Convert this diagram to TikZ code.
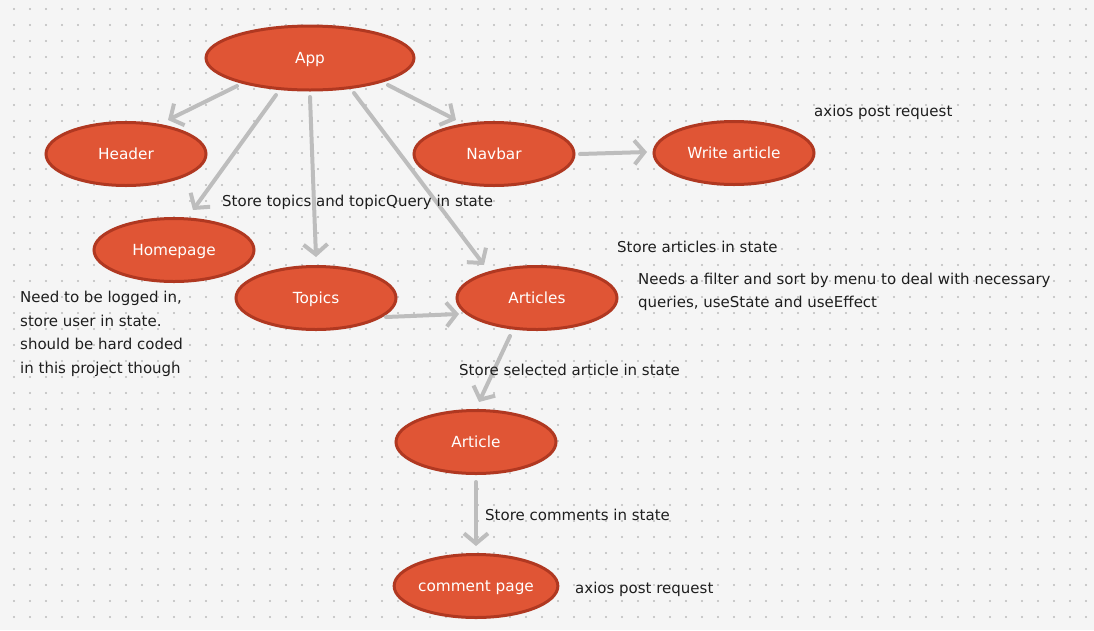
\documentclass[tikz,border=0pt]{standalone}
\usepackage{fontspec}
\setmainfont{DejaVu Sans}
\usetikzlibrary{arrows.meta,shapes.geometric,calc}
\definecolor{bgcol}{HTML}{F5F5F5}
\definecolor{dotcol}{HTML}{BBBBBB}
\definecolor{ellfill}{HTML}{E05535}
\definecolor{elldraw}{HTML}{B03821}
\definecolor{arrowgray}{HTML}{BDBDBD}
\definecolor{txtcol}{HTML}{1E1E1E}
\tikzset{
  comp/.style={ellipse, draw=elldraw, fill=ellfill, line width=3pt,
    minimum width=160pt, minimum height=63pt, inner sep=0pt,
    text height=14.5pt, text depth=3.5pt,
    text=white, font=\fontsize{15.3}{18}\selectfont},
  arr/.style={draw=arrowgray, line width=4pt, line cap=round,
    -{Straight Barb[length=10pt,width=24pt]}},
  note/.style={anchor=base west, inner sep=0pt, text=txtcol,
    font=\fontsize{15}{18}\selectfont},
  notebox/.style={anchor=north west, inner sep=0pt, text=txtcol, align=left}
}
\begin{document}
\begin{tikzpicture}[x=1pt,y=-1pt]
\fill[bgcol] (0,0) rectangle (1094,630);
\useasboundingbox (0,0) rectangle (1094,630);
\foreach \x in {14,30,...,1094}{
  \foreach \y in {9,25,...,630}{
    \fill[dotcol] (\x,\y) circle (1.15pt);
  }
}
% nodes
\node[comp, minimum width=208pt, minimum height=64pt] (App) at (310,58) {App};
\node[comp] (Header) at (126,154) {Header};
\node[comp] (Navbar) at (494,154) {Navbar};
\node[comp] (Write) at (734,153) {Write article};
\node[comp] (Homepage) at (174,250) {Homepage};
\node[comp] (Topics) at (316,298) {Topics};
\node[comp] (Articles) at (537,298) {Articles};
\node[comp] (Article) at (476,442) {Article};
\node[comp] (Comment) at (476,586) {comment page};
% connectors
\draw[arr] ($(App)+(-73,28)$) -- ($(Header)+(42,-34)$);
\draw[arr] ($(App)+(-34,37)$) -- ($(Homepage)+(19,-40)$);
\draw[arr] ($(App)+(0,39)$) -- ($(Topics)+(0,-41)$);
\draw[arr] ($(App)+(44,35)$) -- ($(Articles)+(-53,-33)$);
\draw[arr] ($(App)+(78,27)$) -- ($(Navbar)+(-38,-34)$);
\draw[arr] ($(Navbar)+(86,0)$) -- ($(Write)+(-87,-1)$);
\draw[arr] ($(Topics)+(70,19)$) -- ($(Articles)+(-78,16)$);
\draw[arr] ($(Articles)+(-27,38)$) -- ($(Article)+(3,-40)$);
\draw[arr] ($(Article)+(0,40)$) -- ($(Comment)+(0,-40)$);
% notes
\node[note] (n1) at (814,116) {axios post request};
\node[note] (n2) at (222,206) {Store topics and topicQuery in state};
\node[note] (n3) at (617,252) {Store articles in state};
\node[notebox, font=\fontsize{15}{23}\selectfont] (n4) at (638,273) {Needs a filter and sort by menu to deal with necessary\\queries, useState and useEffect};
\node[notebox, font=\fontsize{15}{23.6}\selectfont] (n5) at (20,291) {Need to be logged in,\\store user in state.\\should be hard coded\\in this project though};
\node[note] (n6) at (459,375.5) {Store selected article in state};
\node[note] (n7) at (485,520.5) {Store comments in state};
\node[note] (n8) at (575,593) {axios post request};
\end{tikzpicture}
\end{document}
